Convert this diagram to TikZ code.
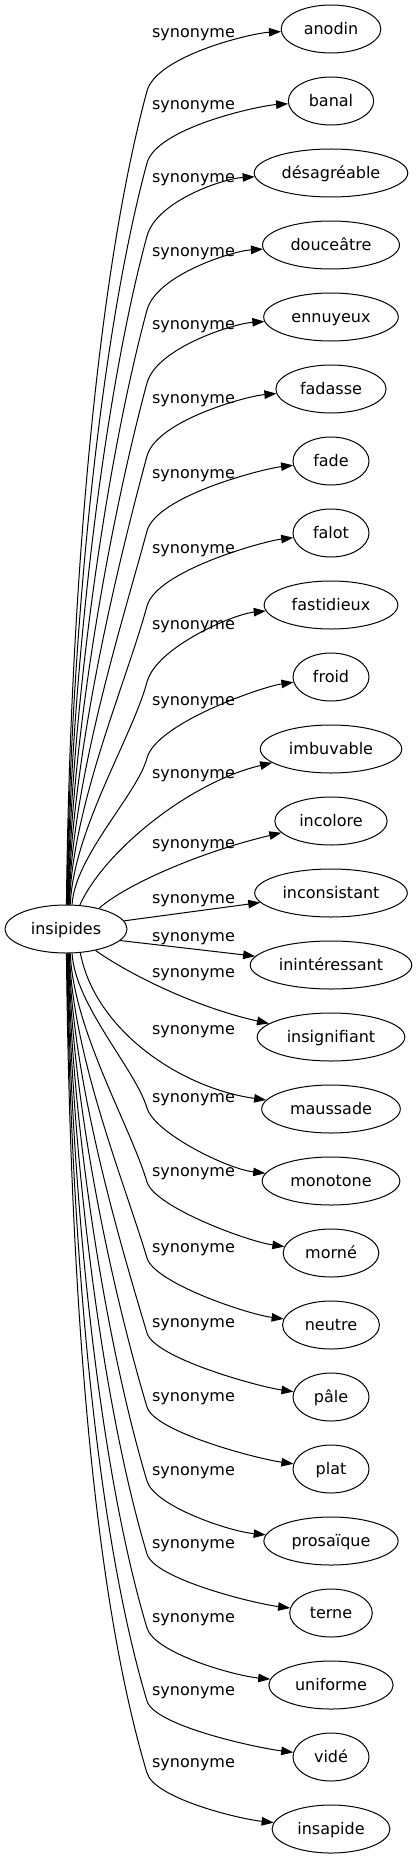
\documentclass[tikz,border=0pt]{standalone}
\usepackage{fontspec}
\setmainfont{DejaVu Sans}
\usetikzlibrary{shapes.geometric,arrows.meta,calc}
\begin{document}
\begin{tikzpicture}[x=1pt,y=1pt,
  every node/.style={font=\fontsize{16pt}{19pt}\selectfont},
  tgt/.style={draw, ellipse, line width=1pt, inner xsep=8pt, inner ysep=0pt,
    minimum height=48pt, minimum width=76pt, text height=12pt, text depth=1pt},
  lbl/.style={anchor=base, inner sep=0pt},
  edge/.style={line width=1pt, -{Triangle[length=12pt,width=8.5pt]}}]
\useasboundingbox (0,0) rectangle (418,-1859);

\node[tgt] (ins) at (66,-929) {insipides};

\node[tgt] (anodin) at (331,-29) {anodin};
\node[tgt] (banal) at (331,-101) {banal};
\node[tgt, inner xsep=5pt] (desagreable) at (331,-173) {désagréable};
\node[tgt] (douceatre) at (331,-245) {douceâtre};
\node[tgt] (ennuyeux) at (331,-317) {ennuyeux};
\node[tgt] (fadasse) at (331,-389) {fadasse};
\node[tgt] (fade) at (331,-461) {fade};
\node[tgt] (falot) at (331,-533) {falot};
\node[tgt] (fastidieux) at (331,-605) {fastidieux};
\node[tgt] (froid) at (331,-677) {froid};
\node[tgt] (imbuvable) at (331,-749) {imbuvable};
\node[tgt] (incolore) at (331,-821) {incolore};
\node[tgt, inner xsep=5.5pt] (inconsistant) at (331,-893) {inconsistant};
\node[tgt, inner xsep=5pt] (interessant) at (331,-965) {inintéressant};
\node[tgt] (insignifiant) at (331,-1037) {insignifiant};
\node[tgt] (maussade) at (331,-1109) {maussade};
\node[tgt] (monotone) at (331,-1181) {monotone};
\node[tgt] (morne) at (331,-1253) {morné};
\node[tgt] (neutre) at (331,-1325) {neutre};
\node[tgt] (pale) at (331,-1397) {pâle};
\node[tgt] (plat) at (331,-1469) {plat};
\node[tgt] (prosaique) at (331,-1541) {prosaïque};
\node[tgt] (terne) at (331,-1613) {terne};
\node[tgt] (uniforme) at (331,-1685) {uniforme};
\node[tgt] (vide) at (331,-1757) {vidé};
\node[tgt] (insapide) at (331,-1829) {insapide};

\foreach \k/\L in {0/33,1/105,2/178,3/252,4/325,5/398,6/473,7/548,8/624,9/700,
  10/773,11/843,12/898,13/936,14/972,15/1029,16/1097,17/1171,18/1247,19/1322,
  20/1396,21/1470,22/1543,23/1617,24/1690,25/1762}
  \node[lbl] (l\k) at (193.5,-\L-5) {synonyme};

% upper edges
\foreach \n/\L/\a/\s in {anodin/33/89/0.14, banal/105/88/0.16, desagreable/178/87/0.18,
  douceatre/252/86/0.2, ennuyeux/325/85/0.22, fadasse/398/84/0.24, fade/473/83/0.26,
  falot/548/82/0.28, fastidieux/624/80/0.3, froid/700/76/0.32}{
  \pgfmathsetmacro\Dd{847-\L}
  \draw[edge] (ins.\a) .. controls ($(ins.\a)+(3,\Dd/3)$) and ({147-0.27*\Dd/4},{-(\L+58)-\Dd/4})
    .. (147,{-(\L+58)}) .. controls (156.5,{-(\L+23)}) and ($(\n.west)+(-30,-30*\s)$) .. (\n);
}

% lower edges
\foreach \n/\L/\a/\s in {monotone/1097/284/0.35, morne/1171/280/0.33, neutre/1247/278/0.31,
  pale/1322/277/0.3, plat/1396/276/0.29, prosaique/1470/275/0.28, terne/1543/274/0.27,
  uniforme/1617/273/0.27, vide/1690/272/0.26, insapide/1762/271/0.3}{
  \pgfmathsetmacro\Dd{\L-942}
  \draw[edge] (ins.\a) .. controls ($(ins.\a)+(3,-\Dd/3)$) and ({147-0.3*\Dd/4},{-(\L+11)+\Dd/4})
    .. (147,{-(\L+11)}) .. controls (154.5,{-(\L+36)}) and ($(\n.west)+(-35,35*\s)$) .. (\n);
}

% middle edges
\draw[edge] (ins.60) .. controls (104.5,-850.6) and (190,-782) .. (imbuvable);
\draw[edge] (ins.32) .. controls (125,-885) and (200,-852) .. (incolore);
\draw[edge] (ins.8) -- (inconsistant);
\draw[edge] (ins.348) -- (interessant);
\draw[edge] (ins.324) .. controls (130,-975) and (198,-1008) .. (insignifiant);
\draw[edge] (ins.301) .. controls (95,-1030) and (180,-1088) .. (maussade);
\end{tikzpicture}
\end{document}
